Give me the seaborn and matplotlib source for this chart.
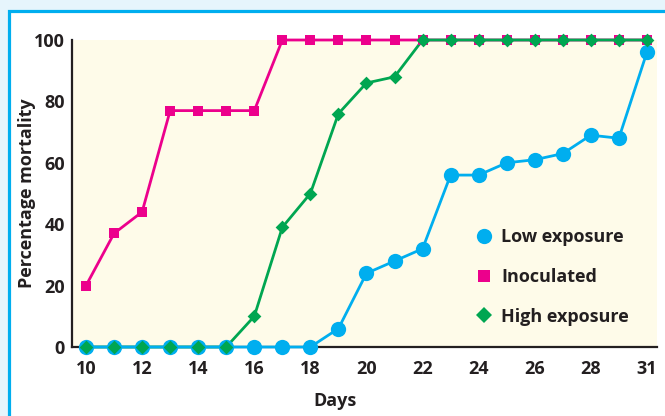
import matplotlib
matplotlib.use("Agg")
import matplotlib.pyplot as plt
from matplotlib.patches import Rectangle
from matplotlib.lines import Line2D
import seaborn as sns
import numpy as np
import pandas as pd

# ---- data ----
days = [10, 11, 12, 13, 14, 15, 16, 17, 18, 19, 20, 21, 22, 23, 24, 25, 26, 27, 28, 29, 31]
low_exposure = [0, 0, 0, 0, 0, 0, 0, 0, 0, 6, 24, 28, 32, 56, 56, 60, 61, 63, 69, 68, 96]
inoculated = [20, 37, 44, 77, 77, 77, 77, 100, 100, 100, 100, 100, 100, 100, 100, 100, 100, 100, 100, 100, 100]
high_exposure = [0, 0, 0, 0, 0, 0, 10, 39, 50, 76, 86, 88, 100, 100, 100, 100, 100, 100, 100, 100, 100]
x_tick_labels = ["10", "12", "14", "16", "18", "20", "22", "24", "26", "28", "31"]
y_ticks = [0, 20, 40, 60, 80, 100]
series_names = ["Low exposure", "Inoculated", "High exposure"]

BLUE = "#00aeef"
MAGENTA = "#ec008c"
GREEN = "#00a651"
TEXT = "#231f20"
FS = 13

sns.set_theme(style="white")
plt.rcParams["font.family"] = ["Open Sans", "DejaVu Sans"]
plt.rcParams["font.weight"] = "bold"

fig = plt.figure(figsize=(6.65, 4.16), dpi=100)
fig.patch.set_facecolor("#e6f5fc")
# white panel with blue border (cut off on right and bottom)
fig.patches.append(Rectangle((8.5 / 665, -0.2), 1.5, 1.2 - 10.5 / 416,
                             transform=fig.transFigure, facecolor="white",
                             edgecolor=BLUE, linewidth=2.3, zorder=-5))

ax = fig.add_axes([72 / 665, 1 - 347 / 416, 585 / 665, 307 / 416])
ax.set_zorder(1)
ax.set_facecolor("#fefbe9")

pos = np.arange(len(days))
df = pd.DataFrame({"pos": pos, "low": low_exposure, "ino": inoculated, "high": high_exposure})

lw = 2.0
# lines
sns.lineplot(data=df, x="pos", y="ino", ax=ax, color=MAGENTA, linewidth=lw, zorder=3)
sns.lineplot(data=df, x="pos", y="high", ax=ax, color=GREEN, linewidth=lw, zorder=4)
sns.lineplot(data=df, x="pos", y="low", ax=ax, color=BLUE, linewidth=lw, zorder=5)
# markers
sns.scatterplot(data=df, x="pos", y="ino", ax=ax, color=MAGENTA, marker="s", s=7.5 ** 2,
                linewidth=0, zorder=6)
sns.scatterplot(data=df, x="pos", y="low", ax=ax, color=BLUE, marker="o", s=11 ** 2,
                linewidth=0, zorder=7)
sns.scatterplot(data=df, x="pos", y="high", ax=ax, color=GREEN, marker="D", s=7 ** 2,
                linewidth=0, zorder=8)
for c in ax.collections:
    c.set_clip_on(False)
for ln in ax.lines:
    ln.set_clip_on(False)

ax.set_xlim(-0.5, 20.36)
ax.set_ylim(0, 100)
ax.set_xticks(pos[::2][:10].tolist() + [pos[-1]])
ax.set_xticklabels(x_tick_labels)
ax.set_yticks(y_ticks)
ax.set_yticklabels([str(v) for v in y_ticks])
ax.tick_params(axis="both", length=0, labelsize=FS, colors=TEXT)
ax.tick_params(axis="x", pad=9)
ax.tick_params(axis="y", pad=5)
for lab in ax.get_xticklabels() + ax.get_yticklabels():
    lab.set_fontweight("bold")

for side in ["top", "right"]:
    ax.spines[side].set_visible(False)
for side in ["left", "bottom"]:
    ax.spines[side].set_color(TEXT)
    ax.spines[side].set_linewidth(1.6)
    ax.spines[side].set_zorder(2)

ax.set_xlabel("Days", fontsize=FS, fontweight="bold", color=TEXT)
ax.set_ylabel("Percentage mortality", fontsize=FS, fontweight="bold", color=TEXT)
ax.xaxis.set_label_coords((335 - 72) / 585, (347 - 392) / 307)
ax.yaxis.set_label_coords((36 - 72) / 585, 0.5)

handles = [
    Line2D([], [], linestyle="", marker="o", markersize=11, color=BLUE, markeredgewidth=0),
    Line2D([], [], linestyle="", marker="s", markersize=9, color=MAGENTA, markeredgewidth=0),
    Line2D([], [], linestyle="", marker="D", markersize=8.5, color=GREEN, markeredgewidth=0),
]
leg = ax.legend(handles, series_names, loc="center left",
                bbox_to_anchor=((459 - 72) / 585, (347 - 277) / 307),
                frameon=False, handlelength=1.0, handletextpad=0.45,
                labelspacing=1.2, prop={"size": FS, "weight": "bold"})
for t in leg.get_texts():
    t.set_color(TEXT)

fig.savefig("out.png", dpi=100, facecolor=fig.get_facecolor())
